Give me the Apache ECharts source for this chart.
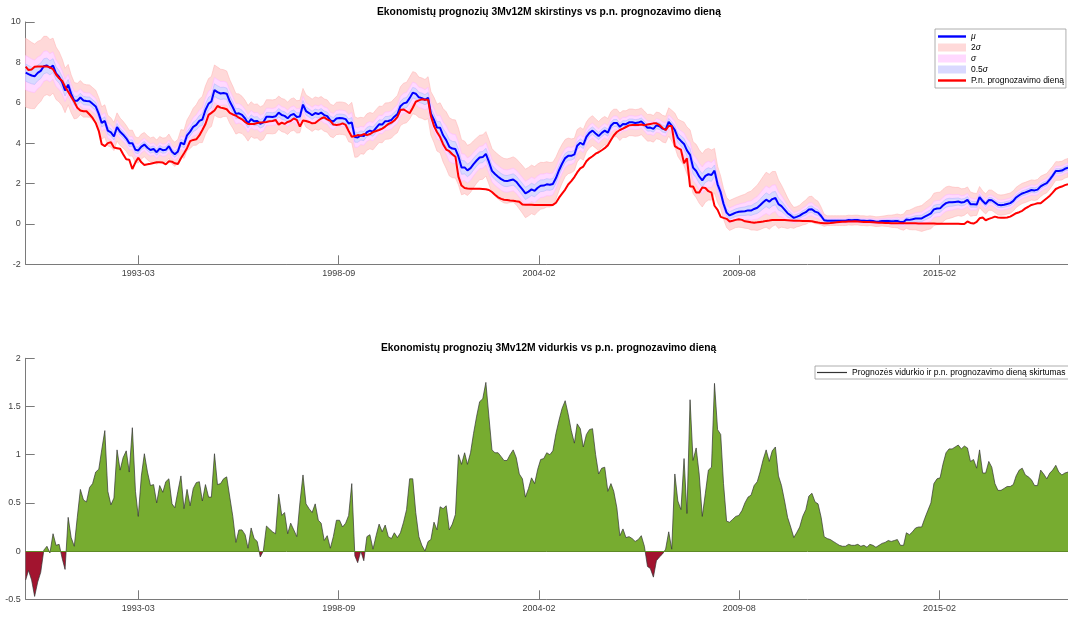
<!DOCTYPE html>
<html>
<head>
<meta charset="utf-8">
<script src="https://cdn.jsdelivr.net/npm/echarts@6/dist/echarts.min.js"></script>
<style>
html,body{margin:0;padding:0;background:#fff}
#main{width:1068px;height:619px}
</style>
</head>
<body>
<div id="main"></div>
<script>
// monthly observations, first one 1990-02
const startYear = 1990, startMonth = 2;
const tickLabels = ['1993-03', '1998-09', '2004-02', '2009-08', '2015-02'];

// rate on the forecast day (red line)
const actual = [
 7.79,7.62,7.65,7.78,7.80,7.80,7.80,7.80,7.75,7.66,
 7.40,7.21,7.08,6.80,6.55,6.30,6.05,5.75,5.62,5.58,
 5.58,5.42,5.25,5.00,4.60,3.95,3.85,4.00,4.05,3.78,
 3.75,3.72,3.45,3.20,3.18,2.72,3.05,3.28,3.05,2.92,
 2.95,2.98,3.02,3.05,3.05,3.04,2.95,3.10,3.08,3.00,
 2.97,3.25,3.50,3.75,4.10,4.16,4.19,4.38,4.65,4.95,
 5.40,5.50,5.62,5.84,5.76,5.73,5.68,5.50,5.42,5.36,
 5.26,5.18,5.05,4.95,4.95,4.95,5.00,5.02,5.03,5.05,
 5.08,5.10,5.15,4.92,5.02,4.95,5.05,5.10,5.22,5.15,
 4.82,5.12,5.10,5.05,4.98,5.00,5.12,5.22,5.28,5.18,
 5.10,4.92,4.90,4.92,4.98,4.90,4.60,4.32,4.35,4.40,
 4.38,4.45,4.40,4.45,4.55,4.60,4.65,4.72,4.82,4.95,
 5.02,5.12,5.30,5.64,5.67,5.58,5.48,5.75,6.05,6.12,
 6.17,6.15,6.15,5.35,4.85,4.55,4.30,3.95,3.68,3.60,
 3.45,3.33,2.34,1.90,1.78,1.75,1.74,1.74,1.74,1.74,
 1.73,1.72,1.68,1.58,1.45,1.32,1.24,1.20,1.18,1.16,
 1.15,1.12,1.10,0.96,0.95,0.95,0.95,0.94,0.94,0.94,
 0.94,0.94,0.94,0.94,1.05,1.30,1.50,1.70,1.95,2.12,
 2.32,2.55,2.75,2.84,3.10,3.25,3.35,3.48,3.55,3.65,
 3.75,3.90,4.16,4.38,4.55,4.65,4.72,4.80,4.88,4.90,
 4.90,4.90,4.92,4.88,4.92,4.95,4.98,4.98,4.90,4.75,
 4.65,4.85,4.85,3.85,3.75,3.68,3.00,3.25,1.85,1.85,
 1.55,1.55,1.80,1.78,1.62,1.55,0.90,0.70,0.35,0.30,
 0.25,0.12,0.16,0.20,0.23,0.20,0.13,0.11,0.08,0.06,
 0.08,0.10,0.12,0.15,0.17,0.19,0.20,0.20,0.20,0.19,
 0.18,0.17,0.16,0.16,0.16,0.15,0.15,0.14,0.13,0.10,
 0.07,0.04,0.03,0.03,0.04,0.06,0.08,0.10,0.11,0.11,
 0.12,0.12,0.13,0.12,0.11,0.10,0.10,0.09,0.08,0.07,
 0.06,0.06,0.05,0.04,0.03,0.03,0.03,0.03,0.03,0.03,
 0.03,0.03,0.03,0.02,0.02,0.02,0.02,0.02,0.02,0.01,
 0.01,0.01,0.01,0.01,0.01,0.01,0.01,0.00,0.00,0.12,
 0.05,0.02,0.10,0.28,0.32,0.18,0.25,0.30,0.36,0.32,
 0.30,0.30,0.32,0.36,0.45,0.53,0.58,0.65,0.77,0.85,
 0.94,0.98,1.02,1.02,1.15,1.27,1.40,1.55,1.73,1.80,
 1.85,1.92,1.96
];

// forecast mean minus rate on the forecast day (lower panel)
const gap = [
 -0.30,-0.20,-0.30,-0.47,-0.32,-0.22,0.01,0.05,-0.02,0.18,
 0.06,0.07,-0.08,-0.19,0.35,0.14,0.05,0.35,0.64,0.53,
 0.51,0.66,0.70,0.82,0.85,1.05,1.25,0.62,0.48,0.55,
 1.05,0.84,0.97,1.04,0.82,1.28,0.62,0.36,0.78,1.01,
 0.82,0.68,0.69,0.50,0.68,0.61,0.72,0.75,0.49,0.45,
 0.62,0.78,0.44,0.64,0.47,0.65,0.71,0.72,0.52,0.69,
 0.56,0.56,1.01,0.69,0.70,0.75,0.77,0.56,0.36,0.09,
 0.22,0.22,0.17,0.03,0.24,0.13,0.10,-0.06,0.00,0.26,
 0.23,0.20,0.18,0.59,0.37,0.40,0.18,0.29,0.22,0.15,
 0.50,0.79,0.49,0.44,0.40,0.49,0.32,0.29,0.11,0.16,
 0.03,0.15,0.32,0.32,0.25,0.29,0.37,0.70,-0.05,-0.12,
 0.00,-0.10,0.15,0.17,0.02,0.16,0.28,0.20,0.27,0.15,
 0.13,0.19,0.14,0.19,0.30,0.43,0.75,0.75,0.40,0.15,
 0.06,0.00,0.10,0.12,0.30,0.22,0.46,0.44,0.47,0.22,
 0.28,0.38,1.00,0.90,1.02,0.90,1.02,1.22,1.40,1.55,
 1.58,1.75,1.40,1.05,1.02,1.02,0.98,0.94,0.94,1.00,
 1.05,0.97,0.80,0.75,0.56,0.65,0.76,0.70,0.85,0.95,
 0.96,1.02,1.00,1.04,1.22,1.36,1.48,1.56,1.42,1.25,
 1.12,1.32,1.27,1.08,1.21,1.26,1.27,1.00,0.80,0.86,
 0.87,0.62,0.70,0.62,0.45,0.16,0.23,0.14,0.15,0.13,
 0.10,0.12,0.16,0.05,-0.16,-0.18,-0.27,-0.10,-0.06,-0.03,
 0.02,0.20,0.02,0.80,0.52,0.43,0.96,0.39,1.57,0.94,
 1.07,0.80,0.36,0.60,0.84,0.87,1.74,1.26,1.21,0.70,
 0.31,0.30,0.33,0.36,0.37,0.42,0.50,0.56,0.58,0.68,
 0.72,0.82,0.95,1.05,0.93,1.04,1.08,0.78,0.68,0.52,
 0.35,0.25,0.14,0.19,0.25,0.36,0.43,0.57,0.60,0.51,
 0.49,0.35,0.15,0.13,0.12,0.10,0.08,0.06,0.05,0.05,
 0.07,0.06,0.06,0.07,0.05,0.06,0.04,0.07,0.06,0.04,
 0.06,0.08,0.09,0.11,0.10,0.11,0.12,0.06,0.06,0.19,
 0.17,0.20,0.24,0.25,0.25,0.34,0.42,0.50,0.70,0.75,
 0.76,0.90,1.02,1.06,1.06,1.08,1.10,1.06,1.09,1.07,
 0.93,0.95,0.86,1.05,0.81,0.81,0.93,0.87,0.70,0.63,
 0.63,0.65,0.67,0.67,0.69,0.78,0.84,0.86,0.79,0.77,
 0.74,0.68,0.68,0.84,0.80,0.75,0.81,0.84,0.89,0.82,
 0.79,0.81,0.82
];

// dispersion of the forecasts (one sigma)
const sigma = [
 0.85,0.84,0.82,0.80,0.78,0.76,0.74,0.72,0.70,0.68,
 0.65,0.62,0.58,0.55,0.50,0.47,0.45,0.43,0.42,0.41,
 0.40,0.40,0.40,0.40,0.40,0.40,0.40,0.38,0.36,0.35,
 0.35,0.34,0.33,0.32,0.32,0.32,0.32,0.31,0.31,0.30,
 0.30,0.30,0.30,0.30,0.30,0.30,0.30,0.30,0.30,0.30,
 0.30,0.32,0.35,0.38,0.42,0.46,0.50,0.54,0.57,0.60,
 0.62,0.62,0.62,0.62,0.60,0.58,0.56,0.54,0.52,0.50,
 0.48,0.46,0.45,0.44,0.43,0.42,0.42,0.42,0.42,0.42,
 0.42,0.42,0.42,0.41,0.41,0.41,0.40,0.40,0.40,0.40,
 0.40,0.40,0.40,0.40,0.40,0.40,0.40,0.40,0.40,0.40,
 0.40,0.40,0.40,0.40,0.40,0.40,0.45,0.50,0.50,0.48,
 0.45,0.45,0.45,0.45,0.45,0.45,0.45,0.45,0.45,0.45,
 0.45,0.45,0.46,0.48,0.50,0.50,0.52,0.52,0.52,0.50,
 0.50,0.50,0.52,0.54,0.56,0.58,0.62,0.66,0.70,0.72,
 0.72,0.72,0.70,0.68,0.65,0.62,0.60,0.58,0.56,0.55,
 0.55,0.55,0.55,0.55,0.55,0.55,0.55,0.55,0.55,0.55,
 0.56,0.57,0.58,0.59,0.60,0.60,0.60,0.60,0.59,0.58,
 0.57,0.56,0.55,0.54,0.52,0.50,0.48,0.46,0.44,0.42,
 0.40,0.40,0.38,0.38,0.37,0.37,0.37,0.36,0.36,0.36,
 0.35,0.35,0.35,0.34,0.34,0.34,0.33,0.33,0.33,0.33,
 0.33,0.33,0.33,0.33,0.33,0.33,0.33,0.33,0.33,0.33,
 0.33,0.35,0.38,0.42,0.46,0.50,0.54,0.58,0.62,0.64,
 0.66,0.66,0.66,0.65,0.64,0.62,0.55,0.45,0.40,0.38,
 0.37,0.37,0.37,0.37,0.38,0.40,0.42,0.45,0.48,0.52,
 0.56,0.60,0.64,0.68,0.68,0.68,0.66,0.60,0.52,0.45,
 0.38,0.30,0.26,0.25,0.26,0.28,0.30,0.32,0.32,0.30,
 0.28,0.22,0.15,0.12,0.12,0.12,0.12,0.12,0.12,0.12,
 0.12,0.12,0.12,0.12,0.12,0.12,0.12,0.12,0.12,0.12,
 0.12,0.12,0.13,0.14,0.15,0.16,0.17,0.18,0.20,0.22,
 0.24,0.26,0.28,0.30,0.32,0.34,0.36,0.38,0.40,0.40,
 0.40,0.40,0.40,0.40,0.38,0.36,0.35,0.34,0.33,0.32,
 0.30,0.28,0.27,0.26,0.25,0.25,0.25,0.25,0.25,0.25,
 0.25,0.25,0.25,0.25,0.25,0.25,0.25,0.25,0.25,0.25,
 0.25,0.25,0.25,0.25,0.24,0.24,0.24,0.23,0.23,0.23,
 0.23,0.23,0.23
];

const DAY = 864e5;
const months = actual.map((v, i) => Date.UTC(startYear, startMonth - 1 + i, 12));
const mu = actual.map((v, i) => v + gap[i]);
// MATLAB datenum ticks, 2000 days apart
const tickVals = tickLabels.map((l, k) => Date.UTC(1993, 2, 13) + k * 2000 * DAY);
const tickText = {};
tickVals.forEach((v, k) => tickText[v] = tickLabels[k]);

const FONT = "'Liberation Sans', Arial, Helvetica, sans-serif";
const AX = '#7a7a7a', LBL = '#404040';
const LINE_ICON = 'path://M0,0H28V2.4H0Z';

function xAxis(grid) {
  return {
    type: 'value', gridIndex: grid, min: months[0], max: months[months.length - 1],
    axisLine: {onZero: false, lineStyle: {color: AX, width: 1}},
    axisTick: {inside: true, length: 9, customValues: tickVals, lineStyle: {color: AX}},
    axisLabel: {customValues: tickVals, formatter: v => tickText[v] || '', color: LBL, fontSize: 9, fontFamily: FONT, margin: 5},
    splitLine: {show: false}
  };
}
function yAxis(grid, min, max, step) {
  return {
    type: 'value', gridIndex: grid, min: min, max: max, interval: step,
    axisLine: {show: true, onZero: false, lineStyle: {color: AX, width: 1}},
    axisTick: {show: true, inside: true, length: 9, lineStyle: {color: AX}},
    axisLabel: {color: LBL, fontSize: 9, fontFamily: FONT, margin: 5},
    splitLine: {show: false}
  };
}

// mu +- k*sigma drawn as one filled polygon; narrower bands are painted on top
function band(name, k, fill, edge, z) {
  return {
    type: 'custom', name: name, xAxisIndex: 0, yAxisIndex: 0, z: z, silent: true, clip: true,
    itemStyle: {color: fill},
    data: months.map((t, i) => [t, mu[i] - k * sigma[i], mu[i] + k * sigma[i]]),
    encode: {x: 0, y: [1, 2]},
    renderItem: (params, api) => {
      if (params.dataIndex !== 0) return null;
      const up = [], lo = [];
      months.forEach((t, i) => {
        up.push(api.coord([t, mu[i] + k * sigma[i]]));
        lo.push(api.coord([t, mu[i] - k * sigma[i]]));
      });
      return {type: 'polygon', shape: {points: up.concat(lo.reverse())},
        style: {fill: fill, stroke: edge, lineWidth: 0.6}};
    }
  };
}

const diffName = 'Prognozės vidurkio ir p.n. prognozavimo dieną skirtumas';
const series = [
  band('2σ', 2, '#ffd9d9', '#ffb8b8', 1),
  band('σ', 1, '#ffd9ff', '#ffb8ff', 1.1),
  band('0.5σ', 0.5, '#d9d9ff', '#b8b8ff', 1.2),
  {name: 'μ', type: 'line', xAxisIndex: 0, yAxisIndex: 0, symbol: 'none', z: 3, color: '#0000ff',
    lineStyle: {color: '#0000ff', width: 2}, data: months.map((t, i) => [t, mu[i]])},
  {name: 'P.n. prognozavimo dieną', type: 'line', xAxisIndex: 0, yAxisIndex: 0, symbol: 'none', z: 4, color: '#ff0000',
    lineStyle: {color: '#ff0000', width: 2}, data: months.map((t, i) => [t, actual[i]])},
  {name: diffName, type: 'line', xAxisIndex: 1, yAxisIndex: 1, symbol: 'none', z: 2, color: '#333333',
    lineStyle: {color: '#333333', width: 0.7}, areaStyle: {opacity: 1},
    markLine: {silent: true, symbol: 'none', label: {show: false}, lineStyle: {color: '#5e8a26', width: 1, type: 'solid'}, data: [{yAxis: 0}]},
    data: months.map((t, i) => [t, gap[i]])}
];

const legendText = {
  fontSize: 8.5, fontFamily: FONT, color: '#000',
  rich: {i: {fontSize: 8.5, fontStyle: 'italic', fontFamily: FONT, color: '#000'}}
};
const legendFmt = n => ({'μ': '{i|μ}', '2σ': '2{i|σ}', 'σ': '{i|σ}', '0.5σ': '0.5{i|σ}'})[n] || n;

const option = {
  animation: false,
  backgroundColor: '#fff',
  grid: [
    {left: 25.7, right: 0, top: 22, height: 242.3},
    {left: 25.7, right: 0, top: 358.3, height: 241}
  ],
  xAxis: [xAxis(0), xAxis(1)],
  yAxis: [yAxis(0, -2, 10, 2), yAxis(1, -0.5, 2, 0.5)],
  visualMap: {show: false, seriesIndex: series.length - 1, dimension: 1,
    pieces: [{gte: -5, lt: 0, color: '#a2142f'}, {gte: 0, lte: 5, color: '#77ac30'}]},
  legend: [
    {orient: 'vertical', left: 935, top: 29, padding: [3, 2, 3, 3], itemGap: 2, itemWidth: 28, itemHeight: 8,
      backgroundColor: '#fff', borderColor: '#9a9a9a', borderWidth: 0.8, textStyle: legendText, formatter: legendFmt,
      selectedMode: false,
      data: [
        {name: 'μ', icon: LINE_ICON},
        {name: '2σ', icon: 'rect', itemStyle: {borderWidth: 0}},
        {name: 'σ', icon: 'rect', itemStyle: {borderWidth: 0}},
        {name: '0.5σ', icon: 'rect', itemStyle: {borderWidth: 0}},
        {name: 'P.n. prognozavimo dieną', icon: LINE_ICON}
      ]},
    {orient: 'horizontal', left: 815, top: 366, padding: [2, 3, 2, 2], itemWidth: 30, itemHeight: 8,
      backgroundColor: '#fff', borderColor: '#9a9a9a', borderWidth: 0.8, textStyle: legendText,
      selectedMode: false, data: [{name: diffName, icon: 'path://M0,0H30V1.2H0Z', itemStyle: {color: '#333'}}]}
  ],
  graphic: [
    {type: 'text', left: 377, top: 7, style: {text: 'Ekonomistų prognozių 3Mv12M skirstinys vs p.n. prognozavimo dieną',
      font: "bold 10.3px " + FONT, fill: '#000'}},
    {type: 'text', left: 381, top: 343, style: {text: 'Ekonomistų prognozių 3Mv12M vidurkis vs p.n. prognozavimo dieną',
      font: "bold 10.3px " + FONT, fill: '#000'}}
  ],
  series: series
};

const chart = echarts.init(document.getElementById('main'), null, {renderer: 'canvas'});
chart.setOption(option);
window.addEventListener('resize', () => chart.resize());
</script>
</body>
</html>
